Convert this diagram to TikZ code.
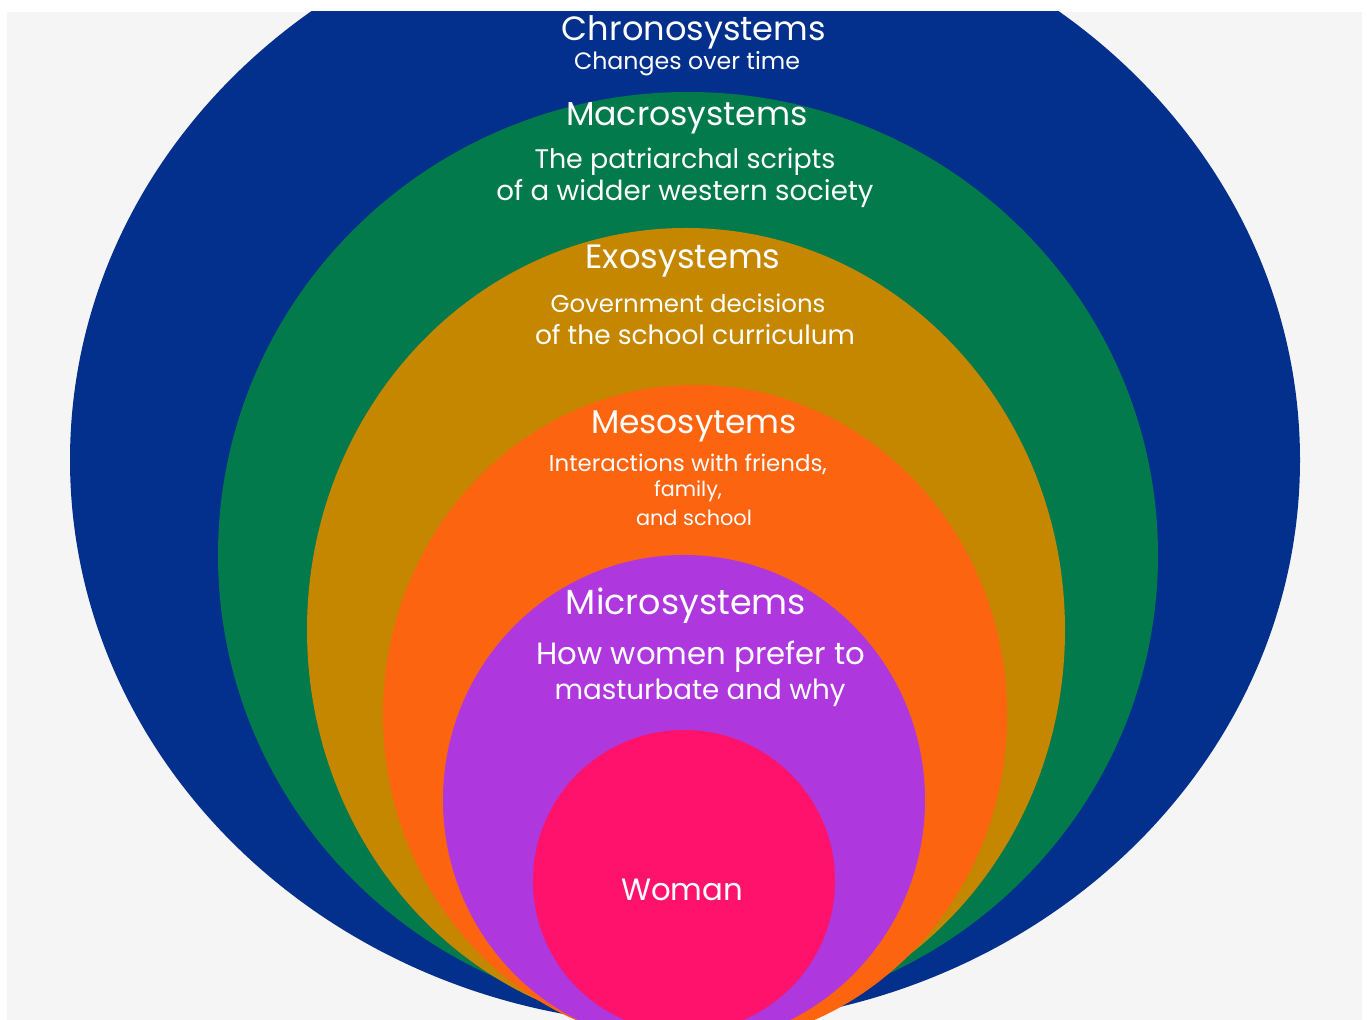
\documentclass[tikz,border=0pt]{standalone}
\usepackage{fontspec}
\setmainfont{Poppins}
\usepackage{graphicx}
\newlength\pxu
\setlength\pxu{0.02cm}
\newcommand\fitw[2]{\resizebox{#1\pxu}{!}{#2}}
\definecolor{bggray}{HTML}{F5F5F5}
\definecolor{cblue}{HTML}{02308C}
\definecolor{cgreen}{HTML}{027A4B}
\definecolor{cgold}{HTML}{C58600}
\definecolor{corange}{HTML}{FD640F}
\definecolor{cpurple}{HTML}{AE38DE}
\definecolor{cpink}{HTML}{FE126B}
\tikzset{txt/.style={text=white, inner sep=0pt, font=\fontsize{20}{24}\selectfont}}
\begin{document}
\begin{tikzpicture}[x=0.02cm,y=0.02cm]
\useasboundingbox (0,0) rectangle (1367,1020);
\fill[white] (0,0) rectangle (1367,1020);
\fill[bggray] (7,0) rectangle (1362,1008);
\begin{scope}
\clip (7,0) rectangle (1362,1008);
\fill[cblue]   (685,{1020-460}) ellipse [x radius=615, y radius=565];
\fill[cgreen]  (688,{1020-555}) ellipse [x radius=470, y radius=463];
\fill[cgold]   (686,{1020-630}) ellipse [x radius=379, y radius=402];
\fill[corange] (695,{1020-715}) ellipse [x radius=312, y radius=330];
\fill[cpurple] (684,{1020-800}) ellipse [x radius=241, y radius=245];
\fill[cpink]   (684,{1020-881}) circle [radius=151];
\end{scope}
\node[txt] (chrono) at (694,{1020-32}) {\fitw{264}{Chronosystems}};
\node[txt] (chronod) at (687,{1020-63.5}) {\fitw{226}{Changes over time}};
\node[txt] (macro) at (687,{1020-118}) {\fitw{242}{Macrosystems}};
\node[txt] (macrod1) at (685,{1020-162}) {\fitw{301}{The patriarchal scripts}};
\node[txt] (macrod2) at (685,{1020-194}) {\fitw{377}{of a widder western society}};
\node[txt] (exo) at (683,{1020-261}) {\fitw{195}{Exosystems}};
\node[txt] (exod1) at (688,{1020-303}) {\fitw{275}{Government decisions}};
\node[txt] (exod2) at (695,{1020-335}) {\fitw{320}{of the school curriculum}};
\node[txt] (meso) at (694,{1020-426}) {\fitw{206}{Mesosytems}};
\node[txt] (mesod1) at (688,{1020-464}) {\fitw{278}{Interactions with friends,}};
\node[txt] (mesod2) at (688,{1020-491}) {\fitw{68}{family,}};
\node[txt] (mesod3) at (694,{1020-518}) {\fitw{116}{and school}};
\node[txt] (micro) at (686,{1020-606}) {\fitw{240}{Microsystems}};
\node[txt] (microd1) at (701,{1020-657}) {\fitw{329}{How women prefer to}};
\node[txt] (microd2) at (700,{1020-693}) {\fitw{291}{masturbate and why}};
\node[txt] (woman) at (682,{1020-890}) {\fitw{122}{Woman}};
\end{tikzpicture}
\end{document}
